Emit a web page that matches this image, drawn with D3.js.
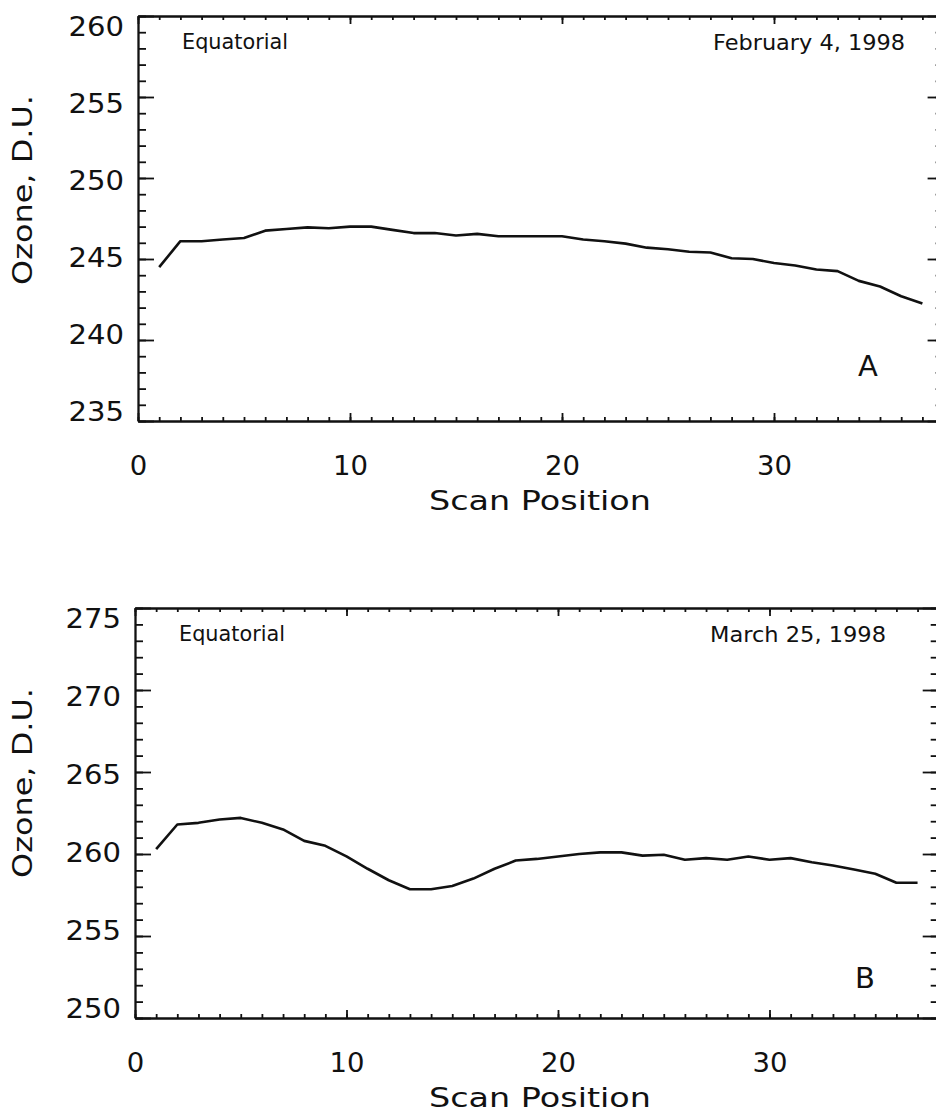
<!DOCTYPE html>
<html>
<head>
<meta charset="utf-8">
<script src="https://cdn.jsdelivr.net/npm/d3@7"></script>
<style>
  html, body { margin: 0; padding: 0; background: #fff; }
  svg { display: block; }
  text { font-family: "DejaVu Sans", "Liberation Sans", sans-serif; fill: #111; }
</style>
</head>
<body>
<svg id="chart" width="936" height="1112"></svg>
<script>
// ---------------- data ----------------
const scanPositions = [1,2,3,4,5,6,7,8,9,10,11,12,13,14,15,16,17,18,19,20,21,22,23,24,25,26,27,28,29,30,31,32,33,34,35,36,37];

const ozoneFeb4 = [244.5, 246.1, 246.1, 246.2, 246.3, 246.75, 246.85, 246.95, 246.9, 247.0,
                   247.0, 246.8, 246.6, 246.6, 246.45, 246.55, 246.4, 246.4, 246.4, 246.4,
                   246.2, 246.1, 245.95, 245.7, 245.6, 245.45, 245.4, 245.05, 245.0, 244.75,
                   244.6, 244.35, 244.25, 243.65, 243.3, 242.7, 242.25];

const ozoneMar25 = [260.3, 261.8, 261.9, 262.1, 262.2, 261.9, 261.5, 260.8, 260.5, 259.85,
                    259.1, 258.4, 257.85, 257.85, 258.05, 258.5, 259.1, 259.6, 259.7, 259.85,
                    260.0, 260.1, 260.1, 259.9, 259.95, 259.65, 259.75, 259.65, 259.85, 259.65,
                    259.75, 259.5, 259.3, 259.05, 258.8, 258.25, 258.25];

const xTickLabels = [0, 10, 20, 30];
const yTicksA = [235, 240, 245, 250, 255, 260];
const yTicksB = [250, 255, 260, 265, 270, 275];

const xTitle = "Scan Position";
const yTitle = "Ozone, D.U.";
const regionLabel = "Equatorial";
const dateA = "February 4, 1998";
const dateB = "March 25, 1998";

// ---------------- drawing ----------------
const svg = d3.select("#chart");

function panel(opt) {
  const x = d3.scaleLinear().domain([0, 38]).range([opt.left, opt.right]);
  const y = d3.scaleLinear().domain(opt.yDomain).range([opt.bottom, opt.top]);
  const g = svg.append("g");
  const xMinor = d3.range(opt.xDomainMinor[0], opt.xDomainMinor[1] + 1);
  const yMinor = d3.range(opt.yDomain[0], opt.yDomain[1] + 1);
  const center = (opt.top + opt.bottom) / 2;

  function styleAxis(sel) {
    sel.select(".domain").attr("stroke", "#111").attr("stroke-width", 1.8);
    sel.selectAll(".tick line").attr("stroke", "#111").attr("stroke-width", 1.8);
  }

  // bottom axis: minor, then major with labels
  g.append("g").attr("transform", `translate(0,${opt.bottom})`)
    .call(d3.axisBottom(x).tickValues(xMinor).tickSize(-4).tickSizeOuter(0).tickFormat(""))
    .call(styleAxis);
  const xb = g.append("g").attr("transform", `translate(0,${opt.bottom})`)
    .call(d3.axisBottom(x).tickValues(xTickLabels).tickSize(-8).tickSizeOuter(0))
    .call(styleAxis);
  xb.selectAll("text")
    .attr("y", 44).attr("dy", "0.36em")
    .attr("font-size", 27)
    .attr("fill", "#111")
    .attr("font-family", "DejaVu Sans")
    .attr("textLength", d => String(d).length * 17.5)
    .attr("lengthAdjust", "spacingAndGlyphs");

  // top axis
  g.append("g").attr("transform", `translate(0,${opt.top})`)
    .call(d3.axisTop(x).tickValues(xMinor).tickSize(-4).tickSizeOuter(0).tickFormat(""))
    .call(styleAxis);
  g.append("g").attr("transform", `translate(0,${opt.top})`)
    .call(d3.axisTop(x).tickValues(xTickLabels).tickSize(-8).tickSizeOuter(0).tickFormat(""))
    .call(styleAxis);

  // left axis
  g.append("g").attr("transform", `translate(${opt.left},0)`)
    .call(d3.axisLeft(y).tickValues(yMinor).tickSize(-8).tickSizeOuter(0).tickFormat(""))
    .call(styleAxis);
  const yl = g.append("g").attr("transform", `translate(${opt.left},0)`)
    .call(d3.axisLeft(y).tickValues(opt.yTicks).tickSize(-16).tickSizeOuter(0).tickPadding(14))
    .call(styleAxis);
  yl.selectAll("text")
    .attr("font-size", 27)
    .attr("fill", "#111")
    .attr("font-family", "DejaVu Sans")
    .attr("dy", "0.36em")
    .attr("transform", d => `translate(0,${(center - y(d)) * 0.05})`)
    .attr("textLength", d => String(d).length * 18.5)
    .attr("lengthAdjust", "spacingAndGlyphs");

  // right axis
  g.append("g").attr("transform", `translate(${opt.right},0)`)
    .call(d3.axisRight(y).tickValues(yMinor).tickSize(-8).tickSizeOuter(0).tickFormat(""))
    .call(styleAxis);
  g.append("g").attr("transform", `translate(${opt.right},0)`)
    .call(d3.axisRight(y).tickValues(opt.yTicks).tickSize(-16).tickSizeOuter(0).tickFormat(""))
    .call(styleAxis);

  // data line
  const line = d3.line().x((d, i) => x(scanPositions[i])).y(d => y(d));
  g.append("path").datum(opt.values)
    .attr("d", line)
    .attr("fill", "none")
    .attr("stroke", "#111")
    .attr("stroke-width", 2.6)
    .attr("stroke-linejoin", "round");

  // annotations
  g.append("text").attr("x", opt.left + 44).attr("y", opt.top + 33)
    .attr("font-size", 21).attr("textLength", 106).attr("lengthAdjust", "spacingAndGlyphs")
    .text(regionLabel);
  g.append("text").attr("x", opt.dateRight).attr("y", opt.top + 34)
    .attr("text-anchor", "end")
    .attr("font-size", 21).attr("textLength", opt.dateLen).attr("lengthAdjust", "spacingAndGlyphs")
    .text(opt.date);
  g.append("text").attr("x", opt.panelX).attr("y", opt.panelY)
    .attr("text-anchor", "middle")
    .attr("font-size", 29)
    .text(opt.panel);

  // titles
  g.append("text").attr("x", 540).attr("y", opt.bottom + 79).attr("dy", "0.36em")
    .attr("text-anchor", "middle")
    .attr("font-size", 27).attr("textLength", 222).attr("lengthAdjust", "spacingAndGlyphs")
    .text(xTitle);
  g.append("text")
    .attr("transform", `translate(22,${opt.yTitleY}) rotate(-90)`)
    .attr("dy", "0.36em")
    .attr("text-anchor", "middle")
    .attr("font-size", 27).attr("textLength", 190).attr("lengthAdjust", "spacingAndGlyphs")
    .text(yTitle);
}

panel({
  left: 138, right: 943.6, top: 16, bottom: 421,
  yDomain: [235, 260], yTicks: yTicksA, xDomainMinor: [0, 38],
  values: ozoneFeb4, date: dateA, dateRight: 905, dateLen: 192,
  panel: "A", panelX: 868, panelY: 376, yTitleY: 190
});

panel({
  left: 135, right: 938.7, top: 608, bottom: 1018,
  yDomain: [250, 275], yTicks: yTicksB, xDomainMinor: [0, 38],
  values: ozoneMar25, date: dateB, dateRight: 886, dateLen: 176,
  panel: "B", panelX: 865, panelY: 988, yTitleY: 783
});
</script>
</body>
</html>
